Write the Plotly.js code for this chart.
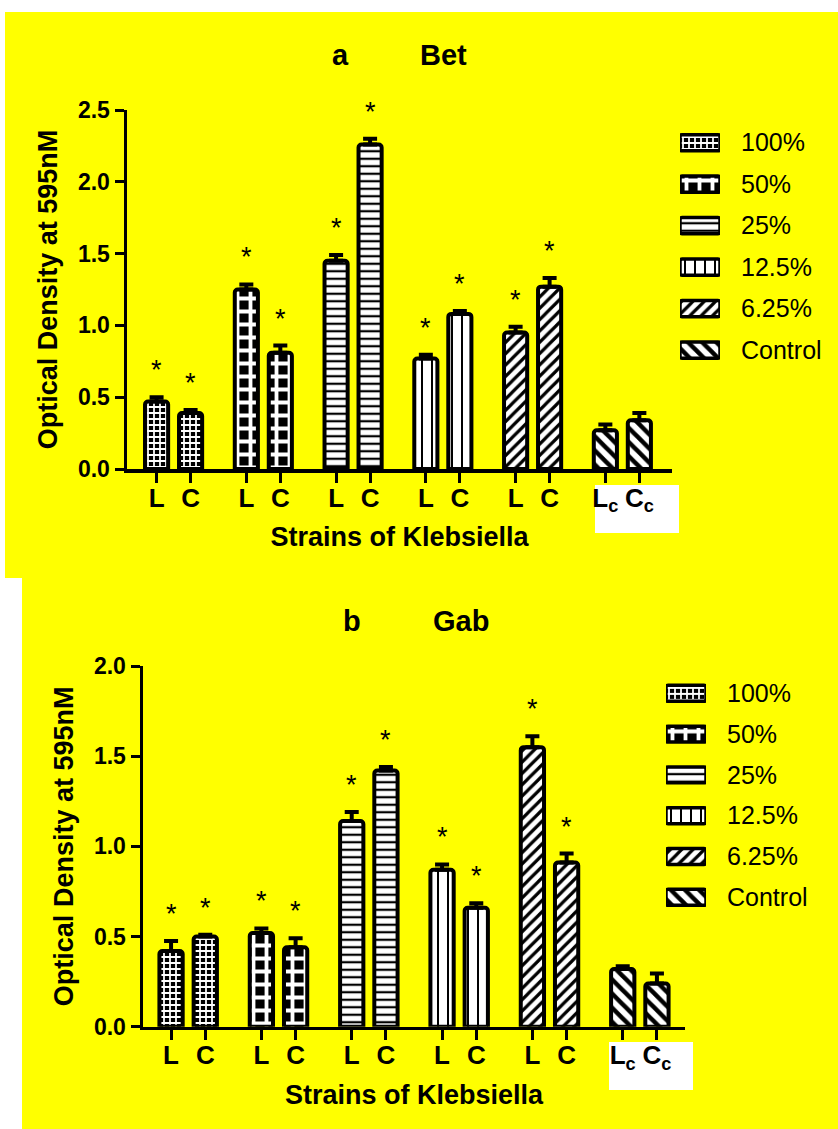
<!DOCTYPE html>
<html><head><meta charset="utf-8">
<script src="https://cdn.plot.ly/plotly-3.0.1.min.js"></script>
<style>html,body{margin:0;padding:0;background:#fff}</style>
</head><body><div id="chart" style="width:838px;height:1129px"></div>
<script>
// ---- data ----
const groups = ['100%', '50%', '25%', '12.5%', '6.25%', 'Control'];
const strainTicks = ['L', 'C'];
const controlTicks = ['L<sub>c</sub>', 'C<sub>c</sub>'];
// panel a : Bet
const betL    = [0.47, 1.25, 1.45, 0.77, 0.95, 0.27];
const betC    = [0.39, 0.81, 2.26, 1.08, 1.27, 0.34];
const betLerr = [0.03, 0.035, 0.04, 0.025, 0.04, 0.04];
const betCerr = [0.02, 0.05, 0.04, 0.02, 0.06, 0.05];
// panel b : Gab
const gabL    = [0.42, 0.52, 1.14, 0.87, 1.55, 0.32];
const gabC    = [0.50, 0.44, 1.42, 0.66, 0.91, 0.24];
const gabLerr = [0.055, 0.025, 0.05, 0.03, 0.06, 0.015];
const gabCerr = [0.01, 0.05, 0.02, 0.025, 0.05, 0.055];
const significant = [true, true, true, true, true, false];
const titleA = ['a', 'Bet'];
const titleB = ['b', 'Gab'];
const xTitle = 'Strains of Klebsiella';
const yTitle = 'Optical Density at 595nM';

// ---- styling ----
const FONT = 'Liberation Sans, Arial, sans-serif';
const W = 838, H = 1129;
const GAP = 2.64;                 // distance between groups (in bar units)
const pos = (g, k) => g * GAP + k;
const patterns = [
  {shape: '+', bgcolor: '#000', fgcolor: '#fff', size: 6, solidity: 0.5},
  {shape: '+', bgcolor: '#000', fgcolor: '#fff', size: 13, solidity: 0.5},
  {shape: '-', bgcolor: '#fff', fgcolor: '#000', size: 7.5, solidity: 0.3},
  {shape: '|', bgcolor: '#fff', fgcolor: '#000', size: 10, solidity: 0.2},
  {shape: '/', bgcolor: '#fff', fgcolor: '#000', size: 8, solidity: 0.4},
  {shape: '\\', bgcolor: '#fff', fgcolor: '#000', size: 10, solidity: 0.45}
];
const px = v => v / W;
const py = v => 1 - v / H;

const traces = [];
const annotations = [];
function panel(L, C, Le, Ce, xa, ya) {
  groups.forEach((g, i) => {
    traces.push({
      type: 'bar', name: g, showlegend: false, cliponaxis: false,
      x: [pos(i, 0), pos(i, 1)], y: [L[i], C[i]], width: 0.68,
      xaxis: xa, yaxis: ya,
      marker: {pattern: patterns[i], line: {color: '#000', width: 4}, cornerradius: 3},
      error_y: {type: 'data', symmetric: false, array: [Le[i], Ce[i]], arrayminus: [0, 0],
                color: '#000', thickness: 4, width: 7},
      hoverinfo: 'skip'
    });
    if (significant[i]) {
      [[L[i] + Le[i], 0], [C[i] + Ce[i], 1]].forEach(([v, k]) => {
        annotations.push({xref: xa, yref: ya, x: pos(i, k), y: v, text: '*', showarrow: false,
          yanchor: 'middle', yshift: 27, font: {family: FONT, size: 27, color: '#000'}});
      });
    }
  });
}
panel(betL, betC, betLerr, betCerr, 'x', 'y');
panel(gabL, gabC, gabLerr, gabCerr, 'x2', 'y2');

// legend swatches (drawn as bars on small helper axes)
function legend(xa, ya) {
  groups.forEach((g, i) => {
    traces.push({
      type: 'bar', orientation: 'h', showlegend: false, cliponaxis: false,
      x: [1], y: [g], base: 0, width: 0.39, xaxis: xa, yaxis: ya,
      marker: {pattern: patterns[i], line: {color: '#000', width: 3.5}, cornerradius: 2},
      hoverinfo: 'skip'
    });
  });
}
legend('x3', 'y3');
legend('x4', 'y4');

const tickvals = [], ticktext = [];
groups.forEach((g, i) => {
  const labs = i === groups.length - 1 ? controlTicks : strainTicks;
  labs.forEach((t, k) => { tickvals.push(pos(i, k)); ticktext.push(t); });
});

function xAxis(domain, range, anchor, standoff) {
  return {domain, range, anchor, tickvals, ticktext, ticks: 'outside', ticklen: 10, tickwidth: 3,
    tickcolor: '#000', showline: true, linewidth: 3.5, linecolor: '#000', showgrid: false,
    zeroline: false, fixedrange: true, ticklabelstandoff: -7,
    tickfont: {family: FONT, size: 26, color: '#000', weight: 'bold'},
    title: {text: xTitle, standoff, font: {family: FONT, size: 27, color: '#000', weight: 'bold'}}};
}
function yAxis(domain, range, anchor) {
  return {domain, range, anchor, dtick: 0.5, tick0: 0, tickformat: '.1f', ticks: 'outside',
    ticklen: 9, tickwidth: 3, tickcolor: '#000', showline: true, linewidth: 3.5, linecolor: '#000',
    showgrid: false, zeroline: false, fixedrange: true,
    tickfont: {family: FONT, size: 23, color: '#000', weight: 'bold'},
    title: {text: yTitle, standoff: 13, font: {family: FONT, size: 27, color: '#000', weight: 'bold'}}};
}
function legX(domain, anchor) {
  return {domain, range: [0, 1], anchor, visible: false, fixedrange: true};
}
function legY(domain, anchor) {
  return {domain, anchor, type: 'category', categoryarray: groups, range: [5.5, -0.5], side: 'right',
    showline: false, ticks: '', showgrid: false, zeroline: false, ticklabelstandoff: 20, fixedrange: true,
    tickfont: {family: FONT, size: 25, color: '#000'}};
}

[[titleA, [340, 443], 55], [titleB, [352, 461], 621]].forEach(([t, xs, y]) => {
  t.forEach((s, j) => annotations.push({xref: 'paper', yref: 'paper', x: px(xs[j]), y: py(y),
    text: s, showarrow: false, xanchor: 'center', yanchor: 'middle',
    font: {family: FONT, size: 29, color: '#000', weight: 'bold'}}));
});

const shapes = [
  {type: 'rect', xref: 'paper', yref: 'paper', x0: px(5), x1: 1, y0: py(578), y1: py(12),
   fillcolor: '#FFFF00', line: {width: 0}, layer: 'below'},
  {type: 'rect', xref: 'paper', yref: 'paper', x0: px(22), x1: 1, y0: 0, y1: py(578),
   fillcolor: '#FFFF00', line: {width: 0}, layer: 'below'},
  {type: 'rect', xref: 'paper', yref: 'paper', x0: px(595), x1: px(679), y0: py(533), y1: py(485),
   fillcolor: '#FFFFFF', line: {width: 0}, layer: 'below'},
  {type: 'rect', xref: 'paper', yref: 'paper', x0: px(609), x1: px(693), y0: py(1090), y1: py(1042),
   fillcolor: '#FFFFFF', line: {width: 0}, layer: 'below'}
];

const layout = {
  width: W, height: H, margin: {l: 0, r: 0, t: 0, b: 0},
  paper_bgcolor: '#FFFFFF', plot_bgcolor: 'rgba(0,0,0,0)',
  barmode: 'overlay', showlegend: false,
  font: {family: FONT, color: '#000'},
  xaxis: xAxis([px(127), px(672)], [-0.87, 15.16], 'y', 13),
  yaxis: yAxis([py(469), py(110)], [0, 2.5], 'x'),
  xaxis2: xAxis([px(143), px(685)], [-0.82, 15.02], 'y2', 13),
  yaxis2: yAxis([py(1026.7), py(666)], [0, 2.0], 'x2'),
  xaxis3: legX([px(680), px(720)], 'y3'),
  yaxis3: legY([py(370.8), py(122)], 'x3'),
  xaxis4: legX([px(666), px(706)], 'y4'),
  yaxis4: legY([py(917.7), py(672.9)], 'x4'),
  shapes, annotations
};
Plotly.newPlot('chart', traces, layout, {staticPlot: true});
</script></body></html>
